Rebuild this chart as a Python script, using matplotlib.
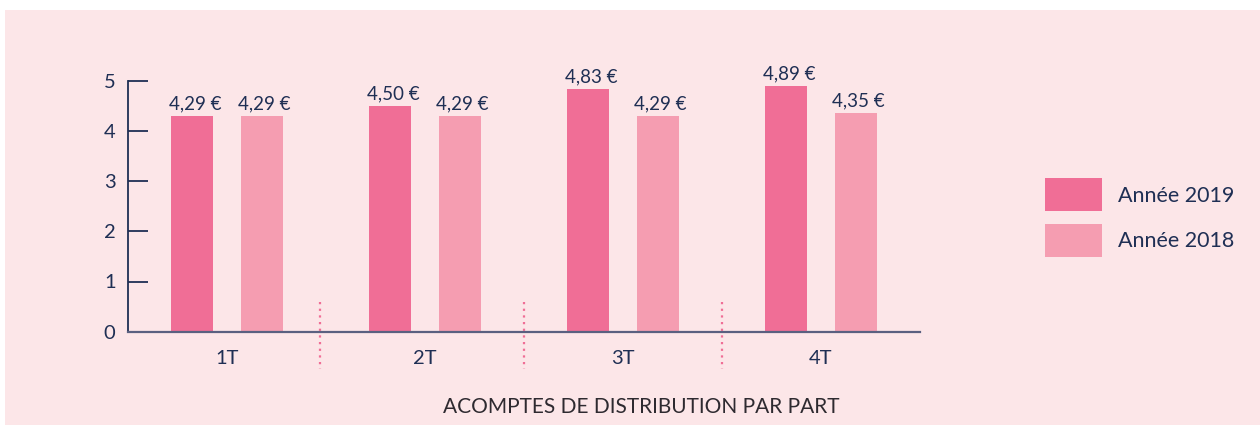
import matplotlib
matplotlib.use("Agg")
import matplotlib.pyplot as plt
from matplotlib.patches import Rectangle
import numpy as np

categories = ["1T", "2T", "3T", "4T"]
values_2019 = [4.29, 4.50, 4.83, 4.89]
values_2018 = [4.29, 4.29, 4.29, 4.35]
labels_2019 = ["4,29 €", "4,50 €", "4,83 €", "4,89 €"]
labels_2018 = ["4,29 €", "4,29 €", "4,29 €", "4,35 €"]
series_names = ["Année 2019", "Année 2018"]
yticks = [0, 1, 2, 3, 4, 5]
separators = [0.47, 1.5, 2.5]

BG = "#fce6e8"
C2019 = "#f06e96"
C2018 = "#f59db1"
NAVY = "#1f2f54"
AXGRAY = "#5a6080"

plt.rcParams['font.family'] = ['Lato', 'DejaVu Sans']

fig = plt.figure(figsize=(12.6, 4.25), dpi=100)
fig.patch.set_facecolor("white")
fig.patches.append(Rectangle((5/1260, 0), 1 - 5/1260, 1 - 10/425,
                             transform=fig.transFigure, facecolor=BG,
                             edgecolor="none", zorder=-10))

ax = fig.add_axes([128/1260, 1 - 331.7/425, (920-128)/1260, (331.7-80.7)/425])
ax.set_facecolor("none")

x = np.arange(len(categories))
off = 0.175
w = 0.212
b1 = ax.bar(x - off, values_2019, width=w, color=C2019, label=series_names[0], zorder=2)
b2 = ax.bar(x + off, values_2018, width=w, color=C2018, label=series_names[1], zorder=2)

for rect, lab in zip(b1, labels_2019):
    ax.annotate(lab, (rect.get_x() + rect.get_width()/2, rect.get_height()),
                xytext=(2, 2.5), textcoords="offset points", ha="center", va="bottom",
                fontsize=13.5, color=NAVY)
for rect, lab in zip(b2, labels_2018):
    ax.annotate(lab, (rect.get_x() + rect.get_width()/2, rect.get_height()),
                xytext=(2, 2.5), textcoords="offset points", ha="center", va="bottom",
                fontsize=13.5, color=NAVY)

for s in separators:
    ax.plot([s, s], [0.59, -0.74], linestyle=(0, (1, 2)), color=C2019, lw=1.6,
            clip_on=False, zorder=3)

ax.set_xlim(-0.5, 3.5)
ax.set_ylim(0, 5)
ax.set_xticks(x)
ax.set_xticklabels(categories)
ax.set_yticks(yticks)
ax.tick_params(axis="x", length=0, pad=13, labelsize=14.5, labelcolor=NAVY)
ax.tick_params(axis="y", direction="in", length=14.5, width=1.3, color=NAVY,
               pad=9, labelsize=14.5, labelcolor=NAVY)

for sp in ["top", "right"]:
    ax.spines[sp].set_visible(False)
ax.spines["left"].set_color(NAVY)
ax.spines["left"].set_linewidth(1.3)
ax.spines["bottom"].set_color(AXGRAY)
ax.spines["bottom"].set_linewidth(1.6)
ax.spines["bottom"].set_zorder(4)

fig.text(641/1260, 1 - 407/425, "ACOMPTES DE DISTRIBUTION PAR PART",
         ha="center", va="center", fontsize=15, color="#2e2a30")

leg = fig.legend(handles=[b1, b2], labels=series_names,
                 loc="upper left", bbox_to_anchor=(1040/1260, 1 - 173/425),
                 frameon=False, fontsize=15.5, handlelength=2.65, handleheight=1.95,
                 labelspacing=0.62, handletextpad=0.7, borderaxespad=0,
                 borderpad=0.25)
for t in leg.get_texts():
    t.set_color(NAVY)

fig.savefig("out.png", dpi=100, facecolor=fig.get_facecolor())
